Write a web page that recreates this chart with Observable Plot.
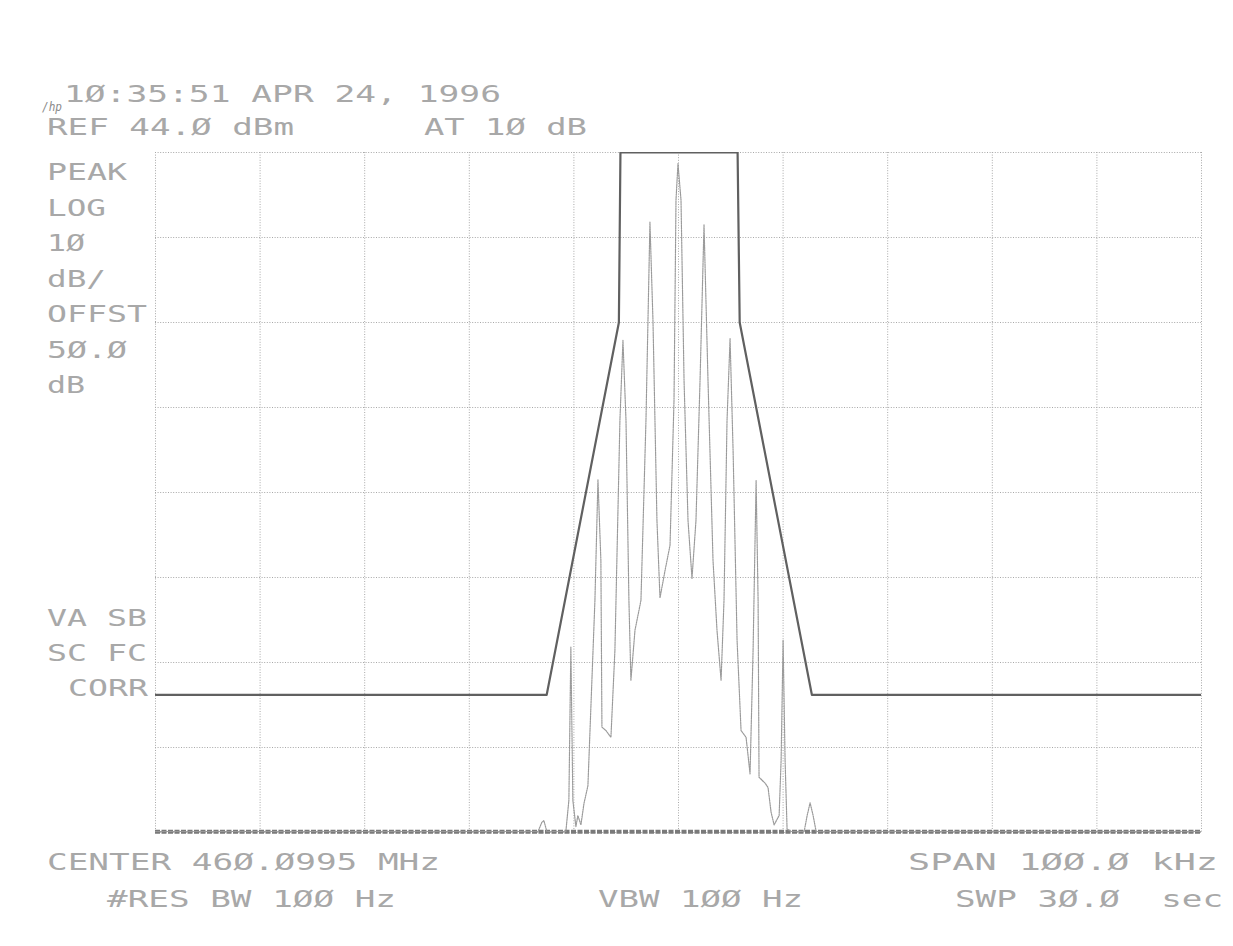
<!DOCTYPE html>
<html>
<head>
<meta charset="utf-8">
<script src="https://cdn.jsdelivr.net/npm/d3@7"></script>
<script src="https://cdn.jsdelivr.net/npm/@observablehq/plot@0.6"></script>
<style>
  html, body { margin: 0; padding: 0; background: #fff; overflow: hidden; }
  #chart { width: 1233px; height: 946px; }
</style>
</head>
<body>
<div id="chart"></div>
<script>
// ---- Data (frequency offset from center in kHz, level in dBm) ----
const centerMHz = 460.0995;
const refLevel = 44;          // dBm, top of screen
const dbPerDiv = 10;
const noiseFloor = -35.9;     // dBm

const xGrid = [-50, -40, -30, -20, -10, 0, 10, 20, 30, 40, 50];
const yGrid = [-36, -26, -16, -6, 4, 14, 24, 34, 44];

// Limit mask trace
const maskTrace = [
  [-50, -19.8], [-12.6, -19.8], [-5.7, 24], [-5.55, 44],
  [5.65, 44], [5.85, 24], [12.75, -19.8], [50, -19.8]
];

// Measured signal trace
const signalTrace = [
  [-50, -35.9], [-13.44, -35.9], [-13.06, -34.8], [-12.87, -34.6], [-12.58, -35.9],
  [-10.77, -35.9], [-10.48, -32.2], [-10.29, -14.2], [-10.10, -32.2], [-9.81, -35.3],
  [-9.62, -34.0], [-9.33, -35.1], [-9.04, -32.6], [-8.66, -30.5], [-7.99, -8.7],
  [-7.70, 5.5], [-7.42, -4.0], [-7.32, -23.6], [-6.94, -24.0], [-6.46, -24.8],
  [-6.08, -14.6], [-5.60, 12.5], [-5.31, 21.9], [-5.02, 12.5], [-4.74, -8.7],
  [-4.55, -18.1], [-4.16, -12.2], [-3.59, -8.7], [-3.11, 12.5], [-2.73, 35.8],
  [-2.44, 24.2], [-2.06, 0.7], [-1.77, -8.4], [-1.29, -5.2], [-0.81, -2.2],
  [-0.43, 14.8], [-0.24, 38.4], [-0.05, 42.7], [0.24, 38.4], [0.53, 17.2],
  [0.91, 0.7], [1.29, -6.1], [1.67, 0.7], [2.06, 17.2], [2.44, 35.5],
  [2.82, 17.2], [3.30, -4.0], [3.68, -12.2], [4.07, -18.1], [4.35, -8.7],
  [4.64, 12.5], [4.93, 22.1], [5.22, 8.9], [5.60, -13.4], [5.98, -24.0],
  [6.46, -24.8], [6.84, -29.1], [7.13, -14.6], [7.42, 5.4], [7.61, -8.7],
  [7.70, -29.5], [8.28, -30.2], [8.56, -30.7], [8.85, -33.6], [9.14, -35.1],
  [9.62, -34.0], [9.81, -27.5], [10.00, -13.4], [10.19, -27.5], [10.38, -35.6],
  [10.77, -35.9], [12.01, -35.9], [12.30, -34.0], [12.58, -32.5], [12.87, -34.0],
  [13.16, -35.9], [50, -35.9]
];

// Screen annotation texts
const headerTexts = ["1Ø:35:51 APR 24, 1996", "REF 44.Ø dBm", "AT 1Ø dB"];
const sideTexts = ["PEAK", "LOG", "1Ø", "dB/", "OFFST", "5Ø.Ø", "dB", "VA SB", "SC FC", "CORR"];
const footerTexts = ["CENTER 46Ø.Ø995 MHz", "#RES BW 1ØØ Hz", "VBW 1ØØ Hz", "SPAN 1ØØ.Ø kHz", "SWP 3Ø.Ø  sec"];
const logoText = "/hp";

// ---- Layout (pixel positions of annotation text: left, baseline, width) ----
const headerLayout = [[64, 102, 437], [47, 135, 247], [424, 135, 163]];
const sideLayout = [[47, 180, 80], [47, 216, 59], [47, 251, 38], [47, 287, 59], [47, 322, 100],
                    [47, 358, 80], [47, 393, 38], [47, 626, 100], [47, 661, 100], [68, 696, 80]];
const footerLayout = [[47, 870, 393], [107, 907, 289], [598, 907, 205], [908, 870, 310], [955, 907, 268]];

const signal = signalTrace.map(([f, l]) => ({f, l}));
const mask = maskTrace.map(([f, l]) => ({f, l}));

const chart = Plot.plot({
  width: 1233,
  height: 946,
  marginLeft: 155,
  marginRight: 32,
  marginTop: 152,
  marginBottom: 114,
  style: {background: "#fff"},
  x: {domain: [-50, 50], axis: null},
  y: {domain: [refLevel - 8 * dbPerDiv, refLevel], axis: null},
  marks: [
    Plot.ruleX(xGrid, {stroke: "#a8a8a8", strokeWidth: 1, strokeDasharray: "1,1.6"}),
    Plot.ruleY(yGrid, {stroke: "#a8a8a8", strokeWidth: 1, strokeDasharray: "1,1.6"}),
    Plot.ruleY([noiseFloor], {stroke: "#7a7a7a", strokeWidth: 4, strokeDasharray: "5,1.5"}),
    Plot.line(signal, {x: "f", y: "l", stroke: "#9a9a9a", strokeWidth: 1.2, strokeDasharray: "1.4,1", clip: true}),
    Plot.line(mask, {x: "f", y: "l", stroke: "#606060", strokeWidth: 2.2, clip: true})
  ]
});
document.getElementById("chart").appendChild(chart);

// Annotation text on the analyser screen
const svg = d3.select(chart);
const g = svg.append("g")
  .attr("font-family", "'DejaVu Sans Mono', monospace")
  .attr("font-size", 23)
  .attr("text-anchor", "start")
  .attr("fill", "#a8a8a8");
function addTexts(texts, layout) {
  texts.forEach((t, i) => {
    const [x, y, w] = layout[i];
    g.append("text")
      .attr("x", x).attr("y", y)
      .attr("text-anchor", "start")
      .attr("textLength", w)
      .attr("lengthAdjust", "spacingAndGlyphs")
      .style("white-space", "pre")
      .text(t);
  });
}
addTexts(headerTexts, headerLayout);
addTexts(sideTexts, sideLayout);
addTexts(footerTexts, footerLayout);
g.append("text")
  .attr("x", 42).attr("y", 111)
  .attr("text-anchor", "start")
  .attr("font-size", 12)
  .attr("font-style", "italic")
  .attr("fill", "#8a8a8a")
  .attr("textLength", 20)
  .attr("lengthAdjust", "spacingAndGlyphs")
  .text(logoText);
</script>
</body>
</html>
